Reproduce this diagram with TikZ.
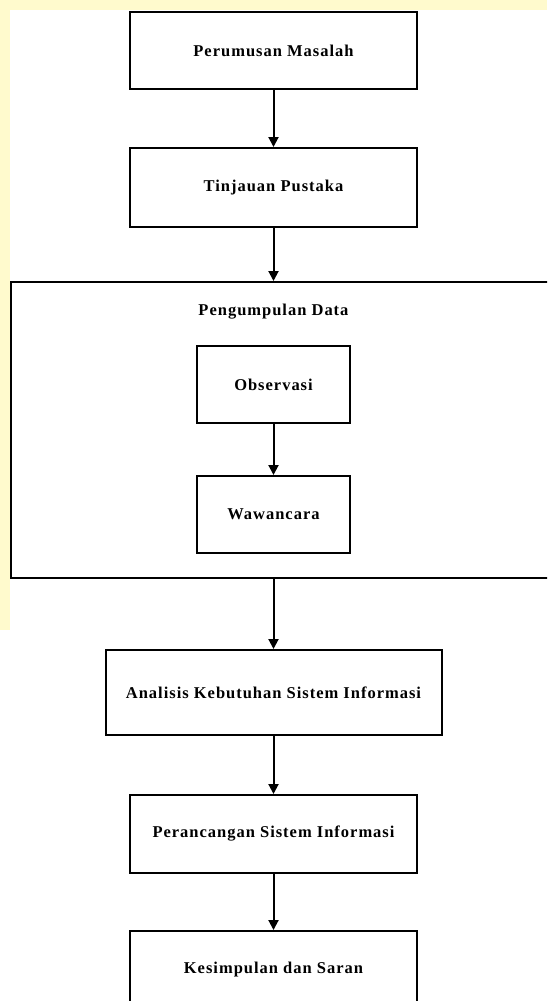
\documentclass[tikz,border=0pt]{standalone}
\usepackage{fontspec}
\setmainfont{Liberation Serif}[LetterSpace=6]
\usetikzlibrary{arrows.meta}
\definecolor{markyellow}{HTML}{FFFACD}
\tikzset{
  stepbox/.style={draw=black, line width=2pt, fill=white, inner sep=0pt,
    font=\fontsize{16.5}{19}\selectfont\bfseries},
  flow/.style={-{Triangle[length=10pt,width=10pt]}, line width=2pt}
}
\begin{document}
\begin{tikzpicture}[x=1pt, y=-1pt]
  \useasboundingbox (0,0) rectangle (547,1001);
  \clip (0,0) rectangle (547,1001);
  % watermark strips at the page edge
  \fill[markyellow] (0,0) rectangle (547,10);
  \fill[markyellow] (0,0) rectangle (10,630);

  \node[stepbox, minimum width=287pt, minimum height=77pt] (masalah) at (273.5,50.5) {Perumusan Masalah};
  \node[stepbox, minimum width=287pt, minimum height=79pt] (pustaka) at (273.5,187.5) {Tinjauan Pustaka};

  % group box, open on the right
  \node[stepbox, minimum width=559pt, minimum height=296pt] (data) at (290.5,430) {};
  \node[font=\fontsize{16.5}{19}\selectfont\bfseries] (datatitle) at (273.5,312) {Pengumpulan Data};
  \node[stepbox, minimum width=153pt, minimum height=77pt] (observasi) at (273.5,384.5) {Observasi};
  \node[stepbox, minimum width=153pt, minimum height=77pt] (wawancara) at (273.5,514.5) {Wawancara};

  \node[stepbox, minimum width=336pt, minimum height=85pt] (analisis) at (273.5,692.5) {Analisis Kebutuhan Sistem Informasi};
  \node[stepbox, minimum width=287pt, minimum height=78pt] (rancang) at (273.5,834) {Perancangan Sistem Informasi};
  \node[stepbox, minimum width=287pt, minimum height=78pt] (simpulan) at (273.5,970) {Kesimpulan dan Saran};

  % arrows
  \draw[flow] (masalah) -- (pustaka);
  \draw[flow] (pustaka.south) -- (pustaka.south |- data.north);
  \draw[flow] (observasi) -- (wawancara);
  \draw[flow] (analisis.north |- data.south) -- (analisis.north);
  \draw[flow] (analisis) -- (rancang);
  \draw[flow] (rancang) -- (simpulan);
\end{tikzpicture}
\end{document}
